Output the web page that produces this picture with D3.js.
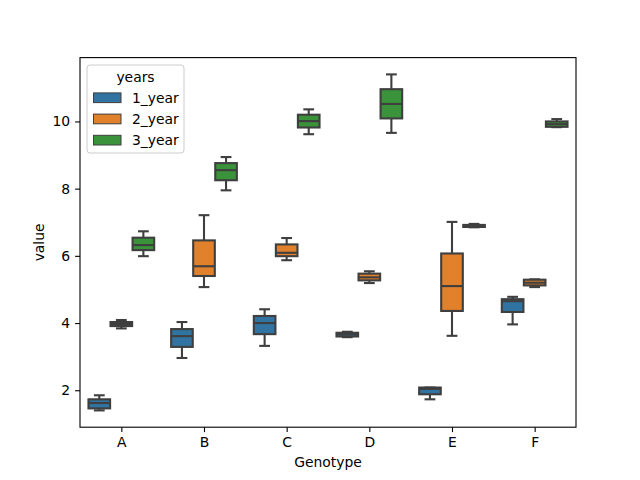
<!DOCTYPE html>
<html>
<head>
<meta charset="utf-8">
<script src="https://cdn.jsdelivr.net/npm/d3@7"></script>
<style>
  html, body { margin: 0; padding: 0; background: #fff; }
  svg { display: block; font-family: "DejaVu Sans", sans-serif; }
</style>
</head>
<body>
<svg id="chart" width="640" height="480"></svg>
<script>
// ---- data: [lower whisker, Q1, median, Q3, upper whisker] per genotype ----
const genotypes = ["A", "B", "C", "D", "E", "F"];
const seriesNames = ["1_year", "2_year", "3_year"];
const year1 = [
  [1.40, 1.46, 1.62, 1.73, 1.85],
  [2.96, 3.29, 3.61, 3.82, 4.03],
  [3.32, 3.67, 4.00, 4.21, 4.41],
  [3.58, 3.60, 3.66, 3.71, 3.74],
  [1.73, 1.88, 2.04, 2.08, 2.08],
  [3.96, 4.33, 4.65, 4.71, 4.78]
];
const year2 = [
  [3.84, 3.91, 3.97, 4.03, 4.09],
  [5.07, 5.40, 5.69, 6.46, 7.21],
  [5.87, 5.99, 6.09, 6.34, 6.53],
  [5.19, 5.27, 5.36, 5.47, 5.54],
  [3.62, 4.36, 5.10, 6.07, 7.01],
  [5.07, 5.12, 5.20, 5.29, 5.30]
];
const year3 = [
  [5.99, 6.17, 6.32, 6.54, 6.73],
  [7.95, 8.25, 8.55, 8.76, 8.94],
  [9.62, 9.82, 10.01, 10.20, 10.36],
  [9.66, 10.09, 10.52, 10.96, 11.40],
  [6.85, 6.86, 6.89, 6.92, 6.95],
  [9.83, 9.84, 9.92, 10.00, 10.07]
];
const yTicks = [2, 4, 6, 8, 10];
const colors = ["#3274a1", "#e1812c", "#3a923a"];

const allSeries = [year1, year2, year3];

// ---- layout ----
const W = 640, H = 480;
const m = { left: 80, right: 64, top: 57.6, bottom: 52.8 };
const pw = W - m.left - m.right, ph = H - m.top - m.bottom;
const svg = d3.select("#chart");
const g = svg.append("g").attr("transform", `translate(${m.left},${m.top})`);

const allVals = allSeries.flat(2);
const vmin = d3.min(allVals), vmax = d3.max(allVals);
const pad = (vmax - vmin) * 0.05;
const y = d3.scaleLinear().domain([vmin - pad, vmax + pad]).range([ph, 0]);
const x = d3.scaleLinear().domain([-0.5, genotypes.length - 0.5]).range([0, pw]);

const lineCol = "#3f3f3f";
const lw = 2.1;
const eachW = 0.8 / seriesNames.length;
const boxW = eachW * 0.98;
const unit = x(1) - x(0);

allSeries.forEach((series, si) => {
  const off = -0.4 + eachW * (si + 0.5);
  const grp = g.append("g");
  series.forEach((s, ci) => {
    const cx = x(ci + off);
    const bw = boxW * unit;
    const [lo, q1, med, q3, hi] = s;
    // whiskers
    grp.append("line").attr("x1", cx).attr("x2", cx).attr("y1", y(q3)).attr("y2", y(hi))
      .attr("stroke", lineCol).attr("stroke-width", lw);
    grp.append("line").attr("x1", cx).attr("x2", cx).attr("y1", y(q1)).attr("y2", y(lo))
      .attr("stroke", lineCol).attr("stroke-width", lw);
    // caps
    [lo, hi].forEach(v => {
      grp.append("line").attr("x1", cx - bw / 4).attr("x2", cx + bw / 4)
        .attr("y1", y(v)).attr("y2", y(v))
        .attr("stroke", lineCol).attr("stroke-width", lw);
    });
    // box
    grp.append("rect").attr("x", cx - bw / 2).attr("width", bw)
      .attr("y", y(q3)).attr("height", Math.max(0.01, y(q1) - y(q3)))
      .attr("fill", colors[si]).attr("stroke", lineCol).attr("stroke-width", lw);
    // median
    grp.append("line").attr("x1", cx - bw / 2).attr("x2", cx + bw / 2)
      .attr("y1", y(med)).attr("y2", y(med))
      .attr("stroke", lineCol).attr("stroke-width", lw);
  });
});

// ---- axes ----
const tickLen = 4.9, tickPad = 4.9, fs = 13.9;
const xAxis = d3.axisBottom(x).tickValues(d3.range(genotypes.length))
  .tickFormat(i => genotypes[i]).tickSize(tickLen).tickPadding(tickPad);
const yAxis = d3.axisLeft(y).tickValues(yTicks).tickSize(tickLen).tickPadding(tickPad);

const gx = g.append("g").attr("transform", `translate(0,${ph})`).call(xAxis);
const gy = g.append("g").call(yAxis);
[gx, gy].forEach(a => {
  a.select(".domain").remove();
  a.selectAll(".tick line").attr("stroke", "#000").attr("stroke-width", 1.1);
  a.selectAll(".tick text").attr("fill", "#000").style("font-size", fs + "px")
    .style("font-family", "DejaVu Sans, sans-serif");
});

// frame
g.append("rect").attr("x", 0).attr("y", 0).attr("width", pw).attr("height", ph)
  .attr("fill", "none").attr("stroke", "#000").attr("stroke-width", 1.1);

// axis labels
svg.append("text").attr("x", m.left + pw / 2).attr("y", 467)
  .attr("text-anchor", "middle").style("font-size", fs + "px").text("Genotype");
svg.append("text").attr("transform", `translate(44,${m.top + ph / 2}) rotate(-90)`)
  .attr("text-anchor", "middle").style("font-size", fs + "px").text("value");

// ---- legend ----
const lg = svg.append("g").attr("transform", "translate(87,65)");
lg.append("rect").attr("x", 0).attr("y", 0).attr("width", 97).attr("height", 88)
  .attr("rx", 3).attr("fill", "#fff").attr("fill-opacity", 0.8)
  .attr("stroke", "#cccccc").attr("stroke-width", 1);
lg.append("text").attr("x", 48.5).attr("y", 16.5).attr("text-anchor", "middle")
  .style("font-size", fs + "px").text("years");
seriesNames.forEach((name, i) => {
  const cy = 32.7 + i * 21.2;
  lg.append("rect").attr("x", 6.5).attr("y", cy - 4.8).attr("width", 27.5).attr("height", 9.7)
    .attr("fill", colors[i]).attr("stroke", lineCol).attr("stroke-width", 1);
  lg.append("text").attr("x", 45).attr("y", cy + 5).style("font-size", fs + "px").text(name);
});
</script>
</body>
</html>
